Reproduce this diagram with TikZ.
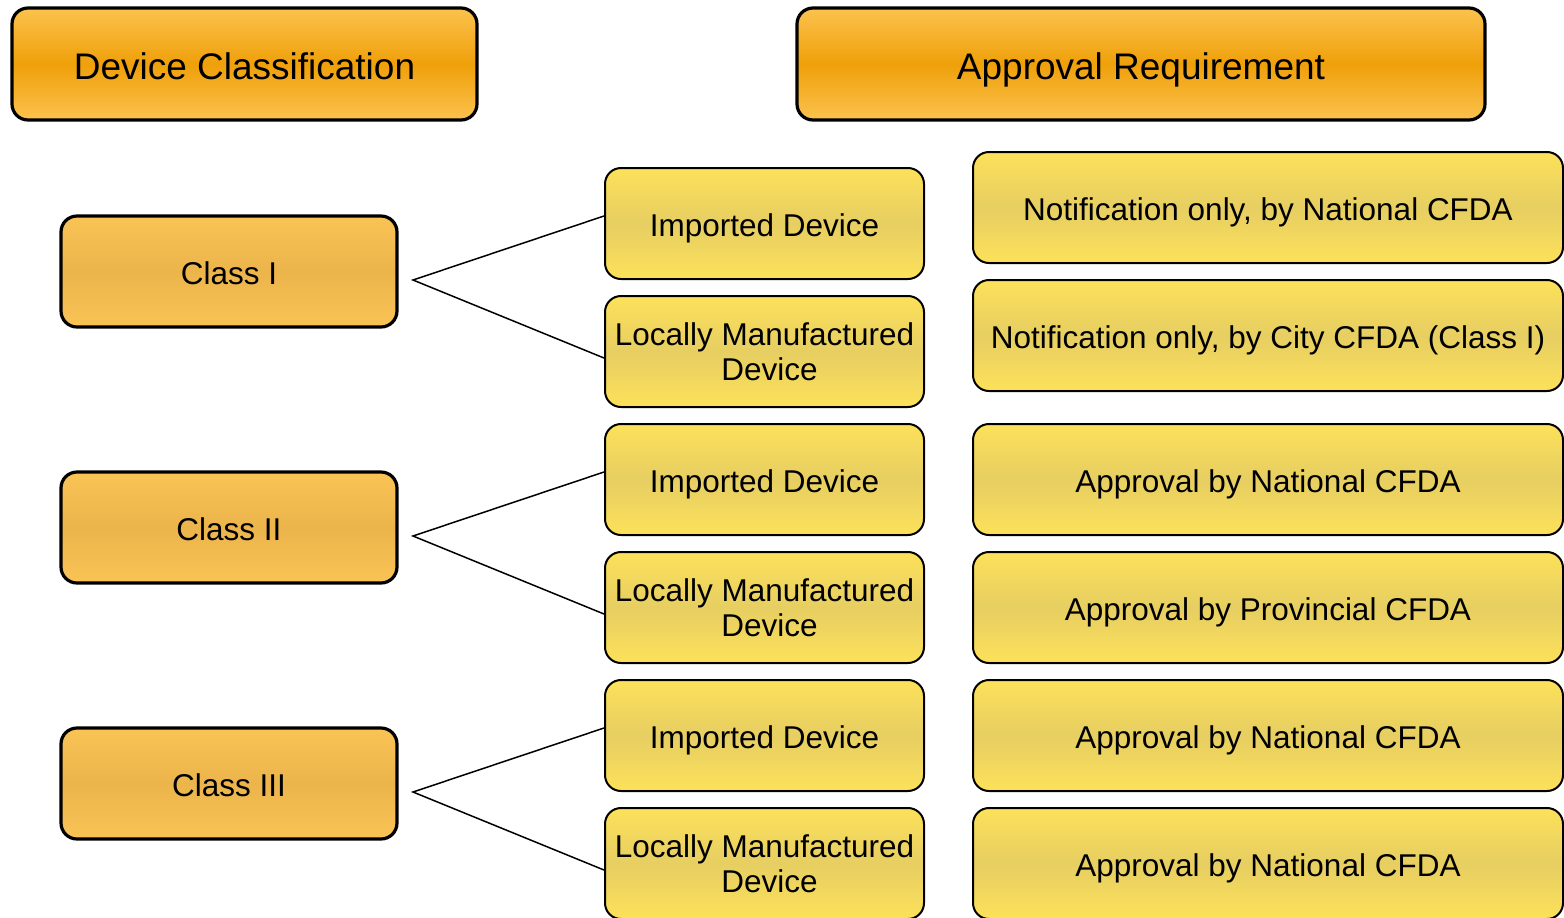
\documentclass[tikz,border=0pt]{standalone}
\usepackage{fontspec}
\setmainfont{Liberation Sans}
\definecolor{hdtop}{HTML}{FCC24E}
\definecolor{hdmid}{HTML}{EFA00A}
\definecolor{cltop}{HTML}{FAC355}
\definecolor{clmid}{HTML}{ECB54C}
\definecolor{yetop}{HTML}{FDE15A}
\definecolor{yemid}{HTML}{E6CE62}
\begin{document}
\begin{tikzpicture}[x=0.5pt,y=-0.5pt,
  header/.style={draw=black,line width=1.6pt,rounded corners=8pt,shading=axis,
    top color=hdtop,bottom color=hdtop,middle color=hdmid,inner sep=0pt,
    text height=15pt,text depth=0pt,
    font=\fontsize{18.5}{22}\selectfont},
  classbox/.style={draw=black,line width=1.6pt,rounded corners=8pt,shading=axis,
    top color=cltop,bottom color=cltop,middle color=clmid,inner sep=0pt,
    text height=12.8pt,text depth=0pt,
    minimum width=168pt,minimum height=55.5pt,font=\fontsize{15.75}{18}\selectfont},
  boxbase/.style={draw=black,line width=1pt,rounded corners=8pt,shading=axis,
    top color=yetop,bottom color=yetop,middle color=yemid,inner sep=0pt,align=center,
    minimum height=55.5pt,font=\fontsize{15.75}{18}\selectfont},
  typebox/.style={boxbase,minimum width=159.5pt,text height=13pt,text depth=0pt},
  typebox2/.style={boxbase,minimum width=159.5pt},
  reqbox/.style={boxbase,minimum width=295pt,text height=13pt,text depth=0pt},
  link/.style={draw=black,line width=0.75pt}]
\useasboundingbox (0,0) rectangle (1564,917);
% headers
\node[header,minimum width=232.5pt,minimum height=56pt] (h1) at (244.5,64) {Device Classification};
\node[header,minimum width=344pt,minimum height=56pt] (h2) at (1141,64) {Approval Requirement};
% classes
\node[classbox] (c1) at (229,271.5) {Class I};
\node[classbox] (c2) at (229,527.5) {Class II};
\node[classbox] (c3) at (229,783.5) {Class III};
% device types
\node[typebox] (t1) at (764.5,223.5) {Imported Device};
\node[typebox2] (t2) at (764.5,351.5) {\raisebox{-1pt}{\shortstack{Locally Manufactured\\[0pt]\hspace*{5pt}Device}}};
\node[typebox] (t3) at (764.5,479.5) {Imported Device};
\node[typebox2] (t4) at (764.5,607.5) {\raisebox{-1pt}{\shortstack{Locally Manufactured\\[0pt]\hspace*{5pt}Device}}};
\node[typebox] (t5) at (764.5,735.5) {Imported Device};
\node[typebox2] (t6) at (764.5,863.5) {\raisebox{-1pt}{\shortstack{Locally Manufactured\\[0pt]\hspace*{5pt}Device}}};
% requirements
\node[reqbox] (r1) at (1268,207.5) {Notification only, by National CFDA};
\node[reqbox] (r2) at (1268,335.5) {Notification only, by City CFDA (Class I)};
\node[reqbox] (r3) at (1268,479.5) {Approval by National CFDA};
\node[reqbox] (r4) at (1268,607.5) {Approval by Provincial CFDA};
\node[reqbox] (r5) at (1268,735.5) {Approval by National CFDA};
\node[reqbox] (r6) at (1268,863.5) {Approval by National CFDA};
% fork points
\coordinate (f1) at (413,280);
\coordinate (f2) at (413,536);
\coordinate (f3) at (413,792);
\draw[link] (t1.west |- 0,216) -- (f1) -- (t2.west |- 0,358);
\draw[link] (t3.west |- 0,472) -- (f2) -- (t4.west |- 0,614);
\draw[link] (t5.west |- 0,728) -- (f3) -- (t6.west |- 0,870);
\end{tikzpicture}
\end{document}
